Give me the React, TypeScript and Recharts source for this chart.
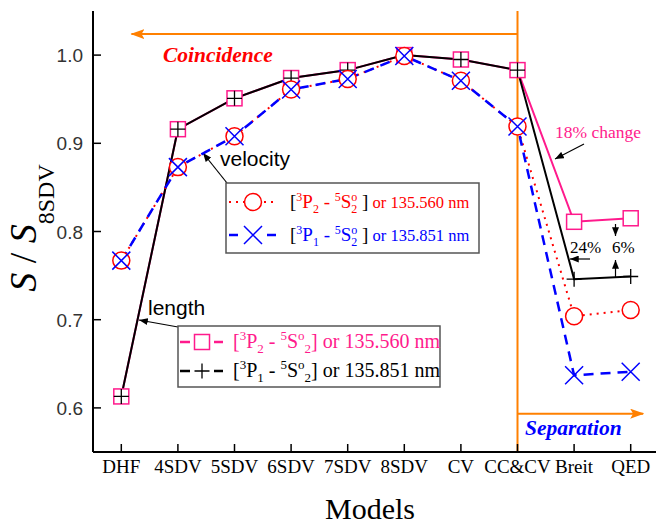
import React from 'react'
import { LineChart, Line, XAxis, YAxis, ReferenceLine } from 'recharts'

// models on the x axis (S / S_8SDV)
const models = ['DHF', '4SDV', '5SDV', '6SDV', '7SDV', '8SDV', 'CV', 'CC&CV', 'Breit', 'QED']
const len3P2 = [0.613, 0.916, 0.951, 0.974, 0.983, 1.0, 0.995, 0.983, 0.811, 0.815]
const len3P1 = [0.613, 0.916, 0.951, 0.974, 0.983, 1.0, 0.995, 0.983, 0.746, 0.749]
const vel3P2 = [0.767, 0.873, 0.908, 0.961, 0.973, 0.999, 0.971, 0.919, 0.704, 0.711]
const vel3P1 = [0.767, 0.873, 0.908, 0.961, 0.973, 0.999, 0.971, 0.919, 0.637, 0.641]
const yTicks = [0.6, 0.7, 0.8, 0.9, 1.0]
const xTicks = models.map((_, i) => i)

const data = models.map((model, i) => ({
  x: i,
  model,
  len3P2: len3P2[i],
  len3P1: len3P1[i],
  vel3P2: vel3P2[i],
  vel3P1: vel3P1[i],
}))

const PINK = '#ff1a8c'
const RED = '#ff0000'
const BLUE = '#0000ff'
const ORANGE = '#ff8000'
const SERIF = '"Liberation Serif", "Times New Roman", serif'
const SANS = '"Liberation Sans", Arial, sans-serif'

const Square = ({ cx, cy }: any) => (
  <rect x={cx - 7.5} y={cy - 7.5} width={15} height={15} fill="#fff" stroke={PINK} strokeWidth={1.5} />
)
const Plus = ({ cx, cy }: any) => (
  <path d={`M${cx - 7.5},${cy}H${cx + 7.5}M${cx},${cy - 7.5}V${cy + 7.5}`} stroke="#000" strokeWidth={1.3} fill="none" />
)
const Ring = ({ cx, cy }: any) => (
  <circle cx={cx} cy={cy} r={8.5} fill="#fff" stroke={RED} strokeWidth={1.5} />
)
const Cross = ({ cx, cy }: any) => (
  <path d={`M${cx - 9},${cy - 9}L${cx + 9},${cy + 9}M${cx - 9},${cy + 9}L${cx + 9},${cy - 9}`} stroke={BLUE} strokeWidth={1.5} fill="none" />
)

function BottomTick({ x, y, payload }: any) {
  return (
    <g>
      <line x1={x} y1={y} x2={x} y2={y - 8} stroke="#000" strokeWidth={1.5} />
      <text x={x} y={y + 21} textAnchor="middle" fontFamily={SERIF} fontSize={19} fill="#000">
        {models[payload.value]}
      </text>
    </g>
  )
}
function TopTick({ x, y }: any) {
  return <line x1={x} y1={y} x2={x} y2={y + 8} stroke="#000" strokeWidth={1.5} />
}
function LeftTick({ x, y, payload }: any) {
  return (
    <g>
      <line x1={x} y1={y} x2={x + 8} y2={y} stroke="#000" strokeWidth={1.5} />
      <text x={x - 10} y={y + 7} textAnchor="end" fontFamily={SANS} fontSize={19} fill="#333">
        {payload.value.toFixed(1)}
      </text>
    </g>
  )
}
function RightTick({ x, y }: any) {
  return <line x1={x} y1={y} x2={x - 8} y2={y} stroke="#000" strokeWidth={1.5} />
}

// rich text with super/subscripts: [text, baseline offset, size, colour, dx]
type Seg = [string, number, number, string?, number?]
function Rich({ x, y, segs, color }: { x: number; y: number; segs: Seg[]; color: string }) {
  let prev = 0
  return (
    <text x={x} y={y} fontFamily={SERIF} fill={color} style={{ whiteSpace: 'pre' }}>
      {segs.map(([t, off, size, c, dx], i) => {
        const dy = off - prev
        prev = off
        return (
          <tspan key={i} dy={dy} dx={dx || 0} fontSize={size} fill={c || color}>
            {t}
          </tspan>
        )
      })}
    </text>
  )
}

const term = (lo: string, wl: string, stacked: boolean, col?: string): Seg[] => {
  const bc = stacked ? '#000' : col
  const m = stacked ? 19 : 20
  const s = stacked ? 12 : 13
  const tail: Seg[] = stacked
    ? [['o', -7, s], ['2', 5, s, undefined, -6], [' ]', 0, m, bc], [' or ' + wl + ' nm', 0, 16.5]]
    : [['o', -8, s], ['2', 5, s], ['] or ' + wl + ' nm', 0, m, bc]]
  return [
    ['[', 0, m, bc],
    ['3', stacked ? -7 : -8, s],
    ['P', 0, m],
    [lo, 5, s],
    [' - ', 0, m],
    ['5', stacked ? -7 : -8, s],
    ['S', 0, m],
    ...tail,
  ]
}

const Arrow = ({ x1, y1, x2, y2 }: any) => (
  <line x1={x1} y1={y1} x2={x2} y2={y2} stroke="#000" strokeWidth={1.2} markerEnd="url(#arrBlack)" />
)

const orangeShape = (p: any) => (
  <line x1={p.x1} y1={p.y1} x2={p.x2} y2={p.y2} stroke={ORANGE} strokeWidth={2} markerEnd="url(#arrOrange)" />
)

export default function App() {
  return (
    <div style={{ position: 'absolute', left: 0, top: 0, width: 656, height: 524, overflow: 'hidden', background: '#fff' }}>
      <LineChart width={662} height={524} data={data} margin={{ top: 11, right: 3, bottom: 0, left: 0 }}>
        <defs>
          <marker id="arrBlack" viewBox="0 0 10 8" refX={10} refY={4} markerWidth={9} markerHeight={7} markerUnits="userSpaceOnUse" orient="auto">
            <path d="M0,0 L10,4 L0,8 z" fill="#000" />
          </marker>
          <marker id="arrOrange" viewBox="0 0 14 10" refX={13} refY={5} markerWidth={14} markerHeight={10} markerUnits="userSpaceOnUse" orient="auto">
            <path d="M0,0 L14,5 L0,10 L3,5 z" fill={ORANGE} />
          </marker>
        </defs>
        <XAxis
          xAxisId="b"
          dataKey="x"
          type="number"
          domain={[-0.5, 9.5]}
          ticks={xTicks}
          interval={0}
          height={72}
          tickSize={0}
          tickMargin={0}
          tickLine={false}
          tick={<BottomTick />}
          axisLine={{ stroke: '#000', strokeWidth: 2 }}
        />
        <XAxis
          xAxisId="t"
          orientation="top"
          dataKey="x"
          type="number"
          domain={[-0.5, 9.5]}
          ticks={xTicks}
          interval={0}
          height={0}
          tickSize={0}
          tickMargin={0}
          tickLine={false}
          tick={<TopTick />}
          axisLine={{ stroke: '#000', strokeWidth: 2 }}
        />
        <YAxis
          yAxisId="l"
          type="number"
          domain={[0.55, 1.05]}
          ticks={yTicks}
          interval={0}
          width={93}
          tickSize={0}
          tickMargin={0}
          tickLine={false}
          tick={<LeftTick />}
          axisLine={{ stroke: '#000', strokeWidth: 2 }}
          allowDataOverflow
        />
        <YAxis
          yAxisId="r"
          orientation="right"
          type="number"
          domain={[0.55, 1.05]}
          ticks={yTicks}
          interval={0}
          width={0}
          tickSize={0}
          tickMargin={0}
          tickLine={false}
          tick={<RightTick />}
          axisLine={{ stroke: '#000', strokeWidth: 2 }}
          allowDataOverflow
        />

        <Line xAxisId="b" yAxisId="l" dataKey="len3P2" stroke={PINK} strokeWidth={2} dot={false} activeDot={false} isAnimationActive={false} />
        <Line xAxisId="b" yAxisId="l" dataKey="len3P1" stroke="#000" strokeWidth={2} dot={false} activeDot={false} isAnimationActive={false} />
        <Line xAxisId="b" yAxisId="l" dataKey="vel3P2" stroke={RED} strokeWidth={2} strokeDasharray="2 5" dot={false} activeDot={false} isAnimationActive={false} />
        <Line xAxisId="b" yAxisId="l" dataKey="vel3P1" stroke={BLUE} strokeWidth={2.5} strokeDasharray="10 7" dot={false} activeDot={false} isAnimationActive={false} />

        <Line xAxisId="b" yAxisId="l" dataKey="len3P2" stroke="none" activeDot={false} isAnimationActive={false}
          dot={(p: any) => <Square key={`sq${p.index}`} cx={p.cx} cy={p.cy} />} />
        <Line xAxisId="b" yAxisId="l" dataKey="len3P1" stroke="none" activeDot={false} isAnimationActive={false}
          dot={(p: any) => <Plus key={`pl${p.index}`} cx={p.cx} cy={p.cy} />} />
        <Line xAxisId="b" yAxisId="l" dataKey="vel3P2" stroke="none" activeDot={false} isAnimationActive={false}
          dot={(p: any) => <Ring key={`ci${p.index}`} cx={p.cx} cy={p.cy} />} />
        <Line xAxisId="b" yAxisId="l" dataKey="vel3P1" stroke="none" activeDot={false} isAnimationActive={false}
          dot={(p: any) => <Cross key={`cr${p.index}`} cx={p.cx} cy={p.cy} />} />

        <ReferenceLine xAxisId="b" yAxisId="l" x={7} stroke={ORANGE} strokeWidth={2} />
        <ReferenceLine xAxisId="b" yAxisId="l" segment={[{ x: 7, y: 1.0238 }, { x: 0.18, y: 1.0238 }]} shape={orangeShape} />
        <ReferenceLine xAxisId="b" yAxisId="l" segment={[{ x: 7, y: 0.5935 }, { x: 9.22, y: 0.5935 }]} shape={orangeShape} />

        <g>
          {/* axis titles */}
          <text transform="translate(36,228) rotate(-90)" textAnchor="middle" fontFamily={SERIF} fontSize={38} fill="#000" style={{ whiteSpace: 'pre' }}>
            <tspan fontStyle="italic">S</tspan>
            <tspan> / </tspan>
            <tspan fontStyle="italic">S</tspan>
            <tspan fontSize={24} dy={18}>8SDV</tspan>
          </text>
          <text x={370} y={519} textAnchor="middle" fontFamily={SERIF} fontSize={30} fill="#000">Models</text>

          <text x={163} y={62} fontFamily={SERIF} fontSize={21.5} fontWeight="bold" fontStyle="italic" fill={RED}>Coincidence</text>
          <text x={525} y={435} fontFamily={SERIF} fontSize={21.5} fontWeight="bold" fontStyle="italic" fill={BLUE}>Separation</text>
          <text x={220} y={166} fontFamily={SANS} fontSize={21} fill="#000">velocity</text>
          <text x={148} y={315} fontFamily={SANS} fontSize={21} fill="#000">length</text>
          <text x={555} y={138} fontFamily={SERIF} fontSize={17.5} fill={PINK}>18% change</text>
          <text x={570} y={253} fontFamily={SERIF} fontSize={17} fill="#000">24%</text>
          <text x={612} y={253} fontFamily={SERIF} fontSize={17} fill="#000">6%</text>

          <Arrow x1={227} y1={183} x2={203} y2={153} />
          <Arrow x1={178} y1={327} x2={139} y2={320} />
          <Arrow x1={584} y1={144} x2={555} y2={159} />
          <Arrow x1={590} y1={259} x2={570} y2={259} />
          <Arrow x1={615.5} y1={224} x2={615.5} y2={236} />
          <Arrow x1={615.5} y1={277} x2={615.5} y2={260} />

          {/* velocity legend */}
          <rect x={226} y={183} width={253} height={70} fill="#fff" stroke="#555" strokeWidth={1.5} />
          <line x1={229} y1={202} x2={278} y2={202} stroke={RED} strokeWidth={2} strokeDasharray="2 5" />
          <Ring cx={253} cy={202} />
          <line x1={229} y1={235} x2={238} y2={235} stroke={BLUE} strokeWidth={2.5} />
          <line x1={267} y1={235} x2={276} y2={235} stroke={BLUE} strokeWidth={2.5} />
          <Cross cx={253} cy={235} />
          <Rich x={290} y={208} color={RED} segs={term('2', '135.560', true)} />
          <Rich x={290} y={241} color={BLUE} segs={term('1', '135.851', true)} />

          {/* length legend */}
          <rect x={178} y={326} width={262} height={61} fill="#fff" stroke="#555" strokeWidth={1.5} />
          <line x1={180} y1={342} x2={190} y2={342} stroke={PINK} strokeWidth={2.5} />
          <line x1={214} y1={342} x2={223} y2={342} stroke={PINK} strokeWidth={2.5} />
          <Square cx={202} cy={342} />
          <line x1={180} y1={371} x2={190} y2={371} stroke="#000" strokeWidth={2.5} />
          <line x1={214} y1={371} x2={223} y2={371} stroke="#000" strokeWidth={2.5} />
          <Plus cx={202} cy={371} />
          <Rich x={233} y={348} color={PINK} segs={term('2', '135.560', false)} />
          <Rich x={233} y={377} color="#000" segs={term('1', '135.851', false)} />
        </g>
      </LineChart>
    </div>
  )
}
